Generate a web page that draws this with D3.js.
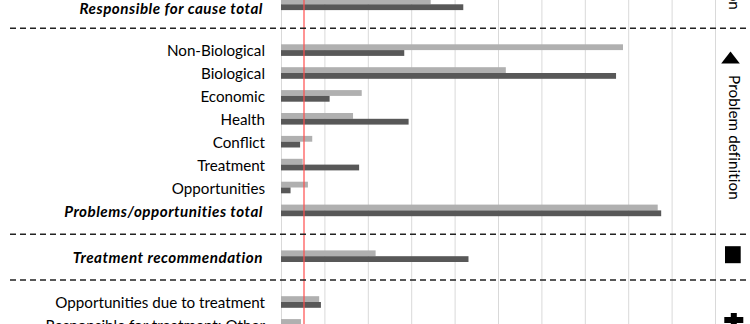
<!DOCTYPE html>
<html>
<head>
<meta charset="utf-8">
<script src="https://cdn.jsdelivr.net/npm/d3@7/dist/d3.min.js"></script>
<style>
  html, body { margin: 0; padding: 0; background: #fff; }
  svg { display: block; font-family: Lato, "Open Sans", sans-serif; }
</style>
</head>
<body>
<svg id="chart" width="750" height="324"></svg>
<script>
// ---- data (top to bottom; "sep" entries are section separators) ----
const categories = [
  "Responsible for cause total", "sep-1",
  "Non-Biological", "Biological", "Economic", "Health", "Conflict",
  "Treatment", "Opportunities", "Problems/opportunities total", "sep-2",
  "Treatment recommendation", "sep-3",
  "Opportunities due to treatment", "Responsible for treatment: Other"
];
const lightValues = [17.25, null, 39.4, 25.9, 9.3, 8.3, 3.6, 2.5, 3.1, 43.4, null, 10.9, null, 4.4, 2.3];
const darkValues  = [21.0,  null, 14.2, 38.6, 5.6, 14.7, 2.2, 9.0, 1.1, 43.8, null, 21.6, null, 4.6, 2.0];
const totalRows = ["Responsible for cause total", "Problems/opportunities total", "Treatment recommendation"];
const referenceValue = 2.65;
const xTicks = [0, 5, 10, 15, 20, 25, 30, 35, 40, 45, 50];
const sectionLabels = ["Causal interpretation", "Problem definition"];

// ---- layout ----
const svg = d3.select("#chart");
const W = 750, H = 324;
const step = 22.9, firstCenter = 4.3;
const FS = 15.2;
const x = d3.scaleLinear().domain([0, 50]).range([281, 715]);
const y = d3.scaleBand().domain(categories)
  .range([firstCenter - step / 2, firstCenter - step / 2 + step * categories.length])
  .padding(0);
const yc = c => y(c) + y.bandwidth() / 2;
const sub = d3.scaleBand().domain(["light", "dark"]).range([-5.8, 5.8]).padding(0);

// gridlines
const gx = svg.append("g")
  .call(d3.axisBottom(x).tickValues(xTicks).tickSize(H).tickFormat(""));
gx.select(".domain").remove();
gx.selectAll(".tick line").attr("stroke", "#d9d9d9").attr("stroke-width", 1);

// bars
const rows = categories.map((c, i) => ({ c, light: lightValues[i], dark: darkValues[i] }))
  .filter(d => d.light != null);
const series = [
  { key: "light", color: "#b0b0b0" },
  { key: "dark", color: "#585858" }
];
series.forEach(s => {
  svg.append("g").selectAll("rect").data(rows).join("rect")
    .attr("x", x(0))
    .attr("y", d => yc(d.c) + sub(s.key))
    .attr("width", d => x(d[s.key]) - x(0))
    .attr("height", sub.bandwidth())
    .attr("fill", s.color);
});

// reference line
svg.append("line")
  .attr("x1", x(referenceValue)).attr("x2", x(referenceValue))
  .attr("y1", 0).attr("y2", H)
  .attr("stroke", "#ff4d4d").attr("stroke-width", 1.2);

// separators
const seps = categories.filter(c => c.startsWith("sep"));
svg.append("g").selectAll("line").data(seps).join("line")
  .attr("x1", 10).attr("x2", W)
  .attr("y1", d => yc(d) + 1).attr("y2", d => yc(d) + 1)
  .attr("stroke", "#222").attr("stroke-width", 1.5)
  .attr("stroke-dasharray", "6 4");

// category labels
svg.append("g").selectAll("text").data(categories.filter(c => !c.startsWith("sep"))).join("text")
  .attr("x", d => totalRows.includes(d) ? 263 : 265)
  .attr("y", d => yc(d) + (d === categories[0] ? 4.5 : 1))
  .attr("dy", "0.35em")
  .attr("text-anchor", "end")
  .attr("font-size", FS)
  .attr("font-weight", d => totalRows.includes(d) ? 700 : 400)
  .attr("font-style", d => totalRows.includes(d) ? "italic" : "normal")
  .attr("letter-spacing", d => totalRows.includes(d) ? 0.5 : 0)
  .attr("fill", "#000")
  .text(d => d);

// section labels (rotated) and markers
svg.append("text")
  .attr("transform", `translate(729,${yc("Responsible for cause total") + 5.5}) rotate(90)`)
  .attr("text-anchor", "end").attr("font-size", FS).attr("fill", "#000")
  .text(sectionLabels[0]);
svg.append("text")
  .attr("transform", `translate(729,${yc("Non-Biological") + 25}) rotate(90)`)
  .attr("text-anchor", "start").attr("font-size", FS).attr("fill", "#000")
  .attr("letter-spacing", 0.1)
  .text(sectionLabels[1]);

// triangle
const ty = yc("Non-Biological") + 7.5;
svg.append("path")
  .attr("d", `M${730.5 - 9.3},${ty + 6} L${730.5 + 9.3},${ty + 6} L730.5,${ty - 6} Z`)
  .attr("fill", "#000");
// square
const sy = yc("Treatment recommendation") - 1.5;
svg.append("rect").attr("x", 725).attr("y", sy - 8.5).attr("width", 15.7).attr("height", 17).attr("fill", "#000");
// plus
const py = yc("Opportunities due to treatment") + 18;
const pcx = 733.8;
svg.append("path")
  .attr("d", `M${pcx - 3},${py - 7} h6 v4 h6.5 v6 h-6.5 v4 h-6 v-4 h-6.5 v-6 h6.5 Z`)
  .attr("fill", "#000");
</script>
</body>
</html>
